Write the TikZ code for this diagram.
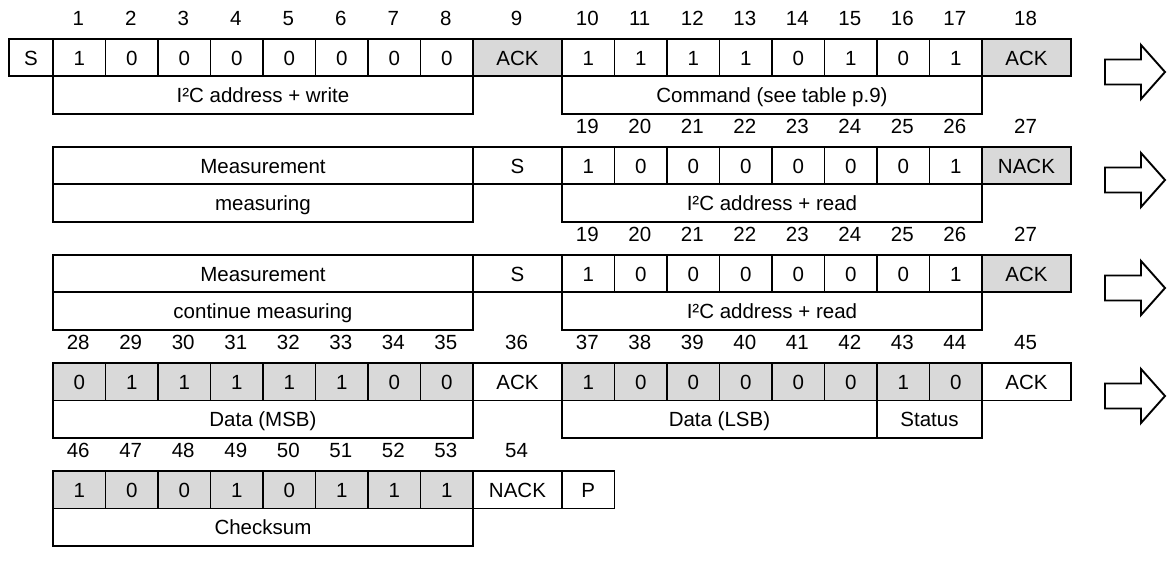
\documentclass[tikz,border=0pt]{standalone}
\usepackage{fontspec}
\setmainfont{Liberation Sans}
\definecolor{cellgray}{RGB}{217,217,217}
\begin{document}
\begin{tikzpicture}[x=1pt,y=-1pt,
  every node/.style={font=\fontsize{20.5}{24}\selectfont},
  cellbox/.style={draw=black, line width=1.9pt, rectangle, inner sep=0pt, text height=14.7pt, text depth=0pt, anchor=north west, minimum height=37.5pt},
  bit/.style={cellbox, minimum width=52.5pt},
  wide/.style={cellbox, minimum width=89pt},
  shaded/.style={fill=cellgray},
  num/.style={inner sep=0pt, text height=14.7pt, text depth=0pt},
  bigarrow/.style={draw=black, line width=1.9pt, line join=miter, fill=white}]
\useasboundingbox (0,0) rectangle (1167,569);

% ---------- Row 1 ----------
\node[cellbox, minimum width=44pt] (s1) at (8,38) {S};
\foreach \v [count=\i] in {1,0,0,0,0,0,0,0}
  \node[bit] (r1a\i) at ({52+52.5*(\i-1)},38) {\v};
\node[wide, shaded] (ack9) at (472,38) {ACK};
\foreach \v [count=\i] in {1,1,1,1,0,1,0,1}
  \node[bit] (r1b\i) at ({561+52.5*(\i-1)},38) {\v};
\node[wide, shaded] (ack18) at (981,38) {ACK};
\foreach \i in {1,...,8}
  \node[num] (n\i) at ({52+52.5*(\i-0.5)},18) {\i};
\node[num] (n9) at (516.5,18) {9};
\foreach \i in {10,...,17}
  \node[num] (n\i) at ({561+52.5*(\i-9.5)},18) {\i};
\node[num] (n18) at (1025.5,18) {18};
\node[cellbox, minimum width=420pt] (l1a) at (52,75.5) {I²C address + write};
\node[cellbox, minimum width=420pt] (l1b) at (561,75.5) {Command (see table p.9)};

% ---------- Row 2 ----------
\node[cellbox, minimum width=420pt] (m2) at (52,146) {Measurement};
\node[wide] (s2) at (472,146) {S};
\foreach \v [count=\i] in {1,0,0,0,0,0,0,1}
  \node[bit] (r2b\i) at ({561+52.5*(\i-1)},146) {\v};
\node[wide, shaded] (nack27a) at (981,146) {NACK};
\foreach \i in {19,...,26}
  \node[num] (na\i) at ({561+52.5*(\i-18.5)},126) {\i};
\node[num] (na27) at (1025.5,126) {27};
\node[cellbox, minimum width=420pt] (l2a) at (52,183.5) {measuring};
\node[cellbox, minimum width=420pt] (l2b) at (561,183.5) {I²C address + read};

% ---------- Row 3 ----------
\node[cellbox, minimum width=420pt] (m3) at (52,254) {Measurement};
\node[wide] (s3) at (472,254) {S};
\foreach \v [count=\i] in {1,0,0,0,0,0,0,1}
  \node[bit] (r3b\i) at ({561+52.5*(\i-1)},254) {\v};
\node[wide, shaded] (ack27b) at (981,254) {ACK};
\foreach \i in {19,...,26}
  \node[num] (nb\i) at ({561+52.5*(\i-18.5)},234) {\i};
\node[num] (nb27) at (1025.5,234) {27};
\node[cellbox, minimum width=420pt] (l3a) at (52,291.5) {continue measuring};
\node[cellbox, minimum width=420pt] (l3b) at (561,291.5) {I²C address + read};

% ---------- Row 4 ----------
\foreach \v [count=\i] in {0,1,1,1,1,1,0,0}
  \node[bit, shaded] (r4a\i) at ({52+52.5*(\i-1)},362) {\v};
\node[wide] (ack36) at (472,362) {ACK};
\foreach \v [count=\i] in {1,0,0,0,0,0,1,0}
  \node[bit, shaded] (r4b\i) at ({561+52.5*(\i-1)},362) {\v};
\node[wide] (ack45) at (981,362) {ACK};
\foreach \i in {28,...,35}
  \node[num] (n\i) at ({52+52.5*(\i-27.5)},342) {\i};
\node[num] (n36) at (516.5,342) {36};
\foreach \i in {37,...,44}
  \node[num] (n\i) at ({561+52.5*(\i-36.5)},342) {\i};
\node[num] (n45) at (1025.5,342) {45};
\node[cellbox, minimum width=420pt] (l4a) at (52,399.5) {Data (MSB)};
\node[cellbox, minimum width=315pt] (l4b) at (561,399.5) {Data (LSB)};
\node[cellbox, minimum width=105pt] (l4c) at (876,399.5) {Status};

% ---------- Row 5 ----------
\foreach \v [count=\i] in {1,0,0,1,0,1,1,1}
  \node[bit, shaded] (r5a\i) at ({52+52.5*(\i-1)},470) {\v};
\node[wide] (nack54) at (472,470) {NACK};
\node[bit] (p) at (561,470) {P};
\foreach \i in {46,...,53}
  \node[num] (n\i) at ({52+52.5*(\i-45.5)},450) {\i};
\node[num] (n54) at (516.5,450) {54};
\node[cellbox, minimum width=420pt] (l5a) at (52,507.5) {Checksum};

% ---------- Arrows ----------
\foreach \c in {72,180,288,396}
  \draw[bigarrow] (1105,\c-12.5) -- (1141,\c-12.5) -- (1141,\c-27) -- (1165,\c)
    -- (1141,\c+27) -- (1141,\c+12.5) -- (1105,\c+12.5) -- cycle;
\end{tikzpicture}
\end{document}
